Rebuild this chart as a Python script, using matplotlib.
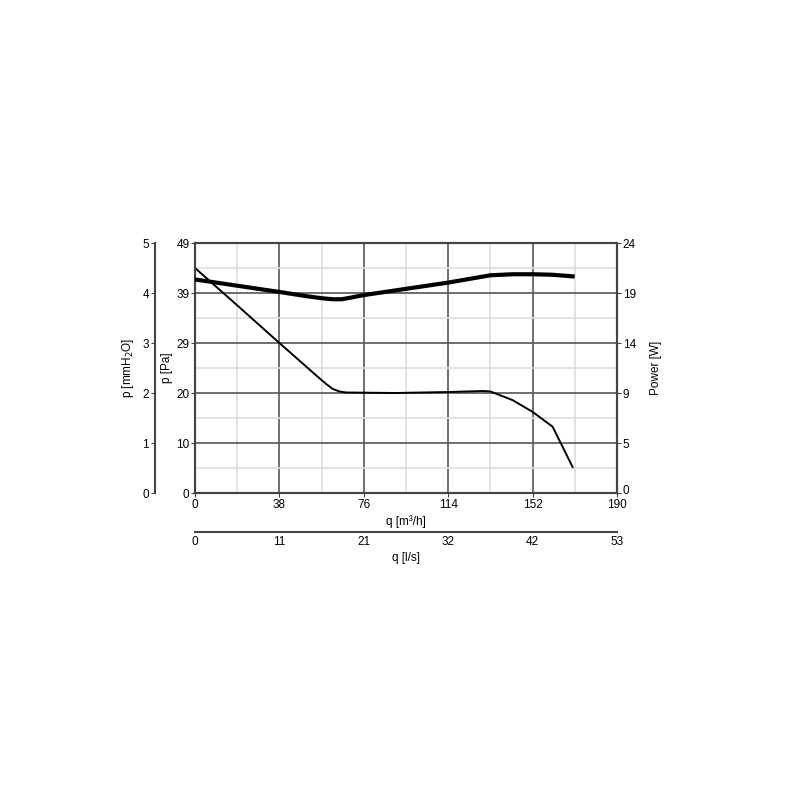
import numpy as np
from matplotlib import pyplot as plt
import matplotlib.transforms as mtransforms

plt.rcParams['font.family'] = ['Liberation Sans', 'DejaVu Sans']
plt.rcParams['font.size'] = 8.5

# pressure curve: q [m3/h] vs p [Pa]
q_p = [0, 20, 38, 50, 56, 59, 62, 65, 68, 90, 115, 130, 133, 143, 152, 161, 170]
p_pa = [44.1, 36.4, 29.4, 24.8, 22.5, 21.4, 20.4, 19.9, 19.7, 19.6, 19.8, 20.0, 19.9, 18.2, 15.9, 13.0, 5.1]

# power curve: q [m3/h] vs Power [W]
q_w = [0, 19, 38, 50, 57, 62, 66, 70, 76, 95, 114, 133, 143, 152, 161, 170]
power_w = [20.5, 19.9, 19.3, 18.9, 18.7, 18.6, 18.6, 18.75, 19.0, 19.6, 20.2, 20.9, 21.0, 21.0, 20.95, 20.8]

q_ticks = [0, 38, 76, 114, 152, 190]
ls_labels = ['0', '11', '21', '32', '42', '53']
pa_labels = ['0', '10', '20', '29', '39', '49']
w_labels = ['0', '5', '9', '14', '19', '24']
mm_ticks = [0, 1, 2, 3, 4, 5]

axis_col = '#444444'
grid_col = '#555555'
minor_col = '#dddddd'

fig = plt.figure(figsize=(8, 8), dpi=100)
ax = fig.add_axes([195/800, 1-493/800, 422/800, 250/800])

ax.set_xlim(0, 190)
ax.set_ylim(0, 49)
ax.set_xticks(q_ticks)
ax.set_yticks(np.linspace(0, 49, 6))
ax.set_yticklabels(pa_labels)
ax.set_xticks(np.arange(19, 190, 38), minor=True)
ax.set_yticks(np.linspace(4.9, 44.1, 5), minor=True)
ax.grid(True, which='major', color=grid_col, linewidth=1.2)
ax.grid(True, which='minor', color=minor_col, linewidth=1.2)
ax.tick_params(which='minor', length=0)
ax.tick_params(which='major', length=3, color=axis_col, pad=1)
ax.set_axisbelow(True)
for s in ax.spines.values():
    s.set_color(axis_col)
    s.set_linewidth(1.5)
ax.set_xlabel('q [m³/h]', labelpad=3)
ax.set_ylabel('p [Pa]', labelpad=2)

ax.plot(q_p, p_pa, color='black', linewidth=1.4, zorder=5)

# power axis on the right
axw = ax.twinx()
axw.set_ylim(0, 24)
axw.set_yticks(np.linspace(0, 24, 6))
axw.set_yticklabels(w_labels)
axw.tick_params(length=3, color=axis_col, pad=1)
axw.set_ylabel('Power [W]', labelpad=10)
for s in axw.spines.values():
    s.set_color(axis_col)
    s.set_linewidth(1.5)
axw.plot(q_w, power_w, color='black', linewidth=3, zorder=5)

# nudge the right-hand "0" up a little so it clears "190"
lbl0 = axw.yaxis.get_major_ticks()[0].label2
lbl0.set_transform(lbl0.get_transform() + mtransforms.ScaledTranslation(0, 3/100, fig.dpi_scale_trans))

# mmH2O axis further left
axm = ax.twinx()
axm.set_ylim(0, 5)
axm.spines['left'].set_visible(True)
axm.spines['left'].set_position(('outward', 29))
axm.spines['left'].set_color(axis_col)
axm.spines['left'].set_linewidth(1.5)
axm.spines['right'].set_visible(False)
axm.spines['top'].set_visible(False)
axm.spines['bottom'].set_visible(False)
axm.yaxis.set_ticks_position('left')
axm.yaxis.set_label_position('left')
axm.set_yticks(mm_ticks)
axm.tick_params(length=3, color=axis_col, pad=1)
axm.set_ylabel('p [mmH$_2$O]', labelpad=5)

# l/s axis below
axl = ax.twiny()
axl.set_xlim(0, 190 / 3.6)
axl.xaxis.set_ticks_position('bottom')
axl.xaxis.set_label_position('bottom')
axl.spines['bottom'].set_position(('outward', 28))
axl.spines['bottom'].set_color(axis_col)
axl.spines['bottom'].set_linewidth(1.5)
for k in ['top', 'left', 'right']:
    axl.spines[k].set_visible(False)
axl.set_xticks(np.linspace(0, 190 / 3.6, 6))
axl.set_xticklabels(ls_labels)
axl.set_xticks([0, 190 / 3.6], minor=True)
axl.tick_params(which='major', length=0, pad=3)
axl.tick_params(which='minor', length=3, color=axis_col)
axl.set_xlabel('q [l/s]', labelpad=3)

plt.savefig('out.png', dpi=100)
